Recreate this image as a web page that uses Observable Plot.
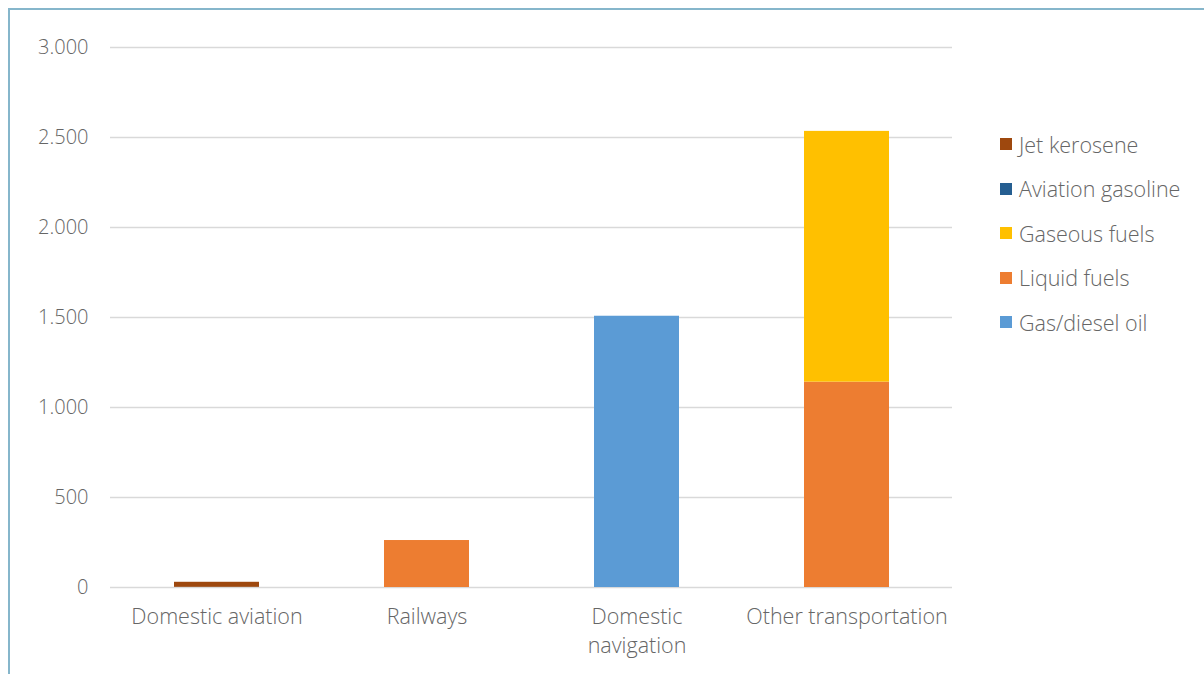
<!DOCTYPE html>
<html>
<head>
<meta charset="utf-8">
<script src="https://cdn.jsdelivr.net/npm/d3@7"></script>
<script src="https://cdn.jsdelivr.net/npm/@observablehq/plot@0.6"></script>
<style>
  html, body { margin: 0; padding: 0; background: #fff; }
  #wrap { position: relative; width: 1204px; height: 674px; overflow: hidden; font-family: "Open Sans", sans-serif; }
  #frame { position: absolute; left: 8px; top: 8px; width: 1300px; height: 800px; border-left: 2px solid #86b6cb; border-top: 2px solid #86b6cb; }
  #chart { position: absolute; left: 0; top: 0; }
  #legend { position: absolute; left: 1000px; top: 132px; }
  .item { display: flex; align-items: center; height: 24px; margin-bottom: 20.5px; font-size: 21.5px; font-weight: 300; color: #666; white-space: nowrap; }
  .sw { width: 12px; height: 12px; margin-right: 7px; flex: none; }
</style>
</head>
<body>
<div id="wrap">
  <div id="frame"></div>
  <div id="chart"></div>
  <div id="legend"></div>
</div>
<script>
const categories = ["Domestic aviation", "Railways", "Domestic navigation", "Other transportation"];
const categoryLabels = ["Domestic aviation", "Railways", "Domestic\nnavigation", "Other transportation"];
// stacking order bottom -> top
const fuels = ["Gas/diesel oil", "Liquid fuels", "Gaseous fuels", "Aviation gasoline", "Jet kerosene"];
const fuelColors = ["#5B9BD5", "#ED7D31", "#FFC000", "#255E91", "#9E480E"];
const gasDieselOil = [0, 0, 1507, 0];
const liquidFuels = [0, 261, 0, 1141];
const gaseousFuels = [0, 0, 0, 1393];
const aviationGasoline = [1, 0, 0, 0];
const jetKerosene = [28, 0, 0, 0];
const yTicks = [0, 500, 1000, 1500, 2000, 2500, 3000];
const legendOrder = ["Jet kerosene", "Aviation gasoline", "Gaseous fuels", "Liquid fuels", "Gas/diesel oil"];

const seriesValues = [gasDieselOil, liquidFuels, gaseousFuels, aviationGasoline, jetKerosene];
const rows = [];
fuels.forEach((f, i) => categories.forEach((c, j) => {
  if (seriesValues[i][j] > 0) rows.push({category: c, fuel: f, value: seriesValues[i][j]});
}));

const fmt = d3.formatLocale({decimal: ",", thousands: ".", grouping: [3], currency: ["", ""]}).format(",");

const chart = Plot.plot({
  width: 1204,
  height: 674,
  marginLeft: 110,
  marginRight: 252,
  marginTop: 47,
  marginBottom: 87,
  style: {fontFamily: "Open Sans, sans-serif", fontSize: "20px", color: "#666", background: "transparent", fontWeight: 300},
  x: {domain: categories, paddingInner: 0.596, paddingOuter: 0.298, label: null},
  y: {domain: [0, 3000], label: null},
  color: {domain: fuels, range: fuelColors},
  marks: [
    Plot.gridY(yTicks, {stroke: "#d9d9d9", strokeOpacity: 1, strokeWidth: 1.5}),
    Plot.axisY(yTicks, {tickSize: 0, tickPadding: 22, tickFormat: fmt, fill: "#666", fontSize: 20, label: null}),
    Plot.axisX({tickSize: 0, tickPadding: 15, lineAnchor: "top", lineHeight: 1.38, fill: "#666", fontSize: 21.5,
      tickFormat: d => categoryLabels[categories.indexOf(d)], label: null}),
    Plot.barY(rows, {x: "category", y: "value", fill: "fuel", order: fuels})
  ]
});
document.getElementById("chart").appendChild(chart);

const legend = document.getElementById("legend");
legendOrder.forEach(name => {
  const item = document.createElement("div");
  item.className = "item";
  const sw = document.createElement("span");
  sw.className = "sw";
  sw.style.background = fuelColors[fuels.indexOf(name)];
  const label = document.createElement("span");
  label.textContent = name;
  item.appendChild(sw);
  item.appendChild(label);
  legend.appendChild(item);
});
</script>
</body>
</html>
